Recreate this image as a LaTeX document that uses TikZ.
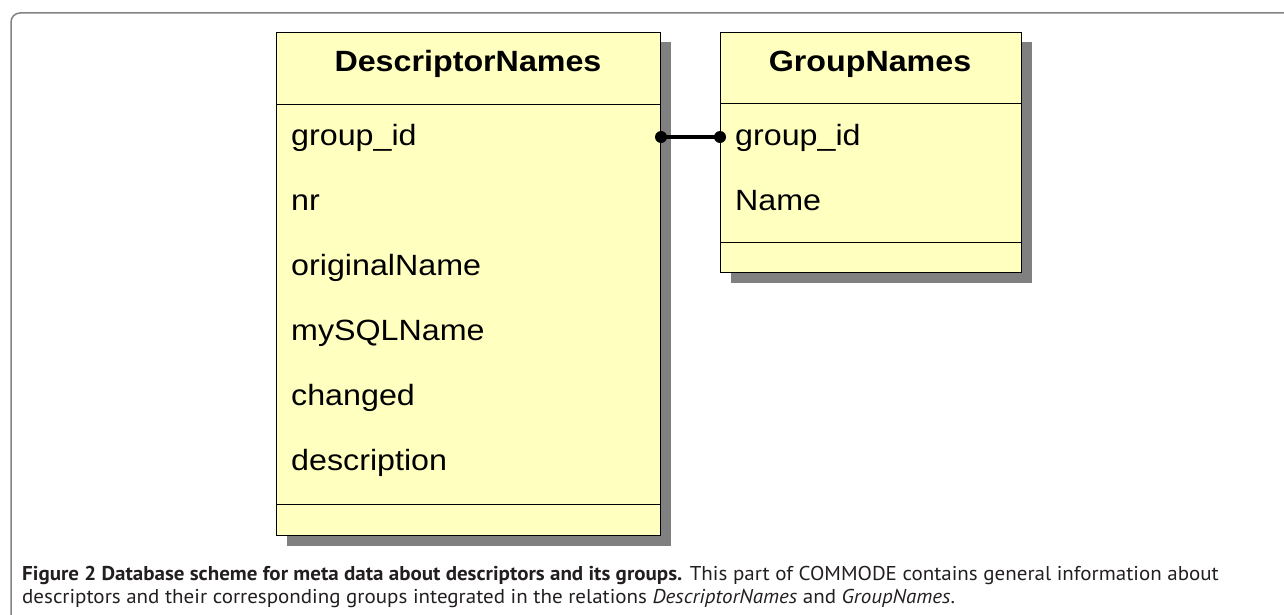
\documentclass[tikz,border=0pt]{standalone}
\usepackage{fontspec}
\newfontfamily\boxfont{Liberation Sans}[FakeStretch=1.1]
\newfontfamily\capfont{PT Sans}[FakeStretch=1.05]
\usetikzlibrary{shadows,calc}
\definecolor{boxfill}{RGB}{255,255,192}
\definecolor{shadowgray}{RGB}{128,128,128}
\definecolor{framegray}{RGB}{130,130,130}
\definecolor{captext}{RGB}{35,31,32}
\tikzset{
  tablebox/.style={draw=black, line width=1pt, fill=boxfill, anchor=north west, inner sep=0pt,
    drop shadow={shadow xshift=10pt, shadow yshift=-10pt, fill=shadowgray, opacity=1}},
  sepline/.style={draw=black, line width=1pt},
  titletext/.style={font=\boxfont\fontsize{29.3}{34}\selectfont\bfseries, anchor=base, inner sep=0pt},
  attrtext/.style={font=\boxfont\fontsize{29.3}{34}\selectfont, anchor=base west, inner sep=0pt},
  connline/.style={line width=3.6pt, black},
  enddot/.style={circle, fill=black, inner sep=0pt, minimum size=12pt},
  captiontext/.style={font=\capfont\fontsize{20}{24}\selectfont, text=captext, anchor=base west, inner sep=0pt},
}
\begin{document}
\begin{tikzpicture}[x=1pt, y=-1pt]
\useasboundingbox (0,0) rectangle (1284,615);
% frame
\draw[framegray, line width=1.5pt, rounded corners=9pt] (11,620) -- (11,13) -- (1290,13);
% tables
\node[tablebox, minimum width=384pt, minimum height=503pt] (dn) at (276,32) {};
\node[tablebox, minimum width=301pt, minimum height=240pt] (gn) at (720,32) {};
% compartment separators
\draw[sepline] ($(dn.north west)+(0,73)$) -- ($(dn.north east)+(0,73)$);
\draw[sepline] ($(dn.north west)+(0,472)$) -- ($(dn.north east)+(0,472)$);
\draw[sepline] ($(gn.north west)+(0,72)$) -- ($(gn.north east)+(0,72)$);
\draw[sepline] ($(gn.north west)+(0,210)$) -- ($(gn.north east)+(0,210)$);
% titles
\node[titletext] (dnt) at (468,72) {DescriptorNames};
\node[titletext] (gnt) at (870,72) {GroupNames};
% attributes
\node[attrtext] (d1) at (291,145) {group\_id};
\node[attrtext] (d2) at (291,210) {nr};
\node[attrtext] (d3) at (291,275) {originalName};
\node[attrtext] (d4) at (291,340) {mySQLName};
\node[attrtext] (d5) at (291,405) {changed};
\node[attrtext] (d6) at (291,470) {description};
\node[attrtext] (g1) at (735,145) {group\_id};
\node[attrtext] (g2) at (735,210) {Name};
% connector
\coordinate (pL) at ($(dn.north east)+(0,105)$);
\coordinate (pR) at ($(gn.north west)+(0,105)$);
\draw[connline] (pL) -- (pR);
\node[enddot] (dl) at (pL) {};
\node[enddot] (dr) at (pR) {};
% caption
\node[captiontext] (c1) at (22,580) {\textbf{Figure 2 Database scheme for meta data about descriptors and its groups.} This part of COMMODE contains general information about};
\node[captiontext] (c2) at (22,603) {descriptors and their corresponding groups integrated in the relations \textit{DescriptorNames} and \textit{GroupNames}.};
\end{tikzpicture}
\end{document}
